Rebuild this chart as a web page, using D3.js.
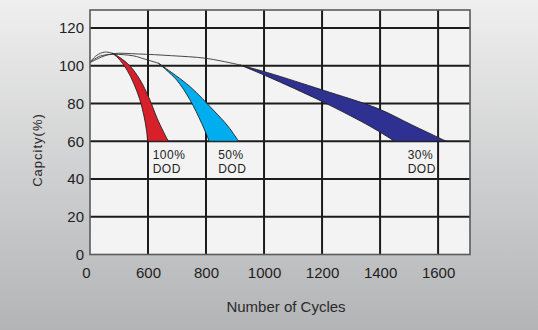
<!DOCTYPE html>
<html lang="en">
<head>
<meta charset="UTF-8">
<title>Capacity vs Number of Cycles</title>
<style>
  body { margin: 0; background: #fff; }
  svg { display: block; font-family: "Liberation Sans", Arial, sans-serif; }
  .grid line { stroke: #1c1c1c; stroke-width: 2; }
  .axis text { font-size: 15px; fill: #1e1e1e; }
  .axis path { display: none; }
  .lead { fill: none; stroke: #333; stroke-width: 0.9; }
  .band { stroke: #222; stroke-width: 0.9; stroke-linejoin: round; }
  .dod text { font-size: 12px; fill: #222; letter-spacing: 0.5px; }
</style>
</head>
<body>
<svg id="chart" width="538" height="330"></svg>
<script src="https://cdn.jsdelivr.net/npm/d3@7"></script>
<script>
// axis ticks
const xTicks = [0, 600, 800, 1000, 1200, 1400, 1600];
const yTicks = [0, 20, 40, 60, 80, 100, 120];

// depth-of-discharge series, in [cycles, capacity %]
const dodNames = ["100%", "50%", "30%"];

const lead100 = [[0, 102], [70, 105.5], [150, 107.2], [228, 106.7]];
const left100 = [[228, 106.7], [290, 104.1], [383, 97.7], [455, 90.3], [517, 81.8], [558, 73.4], [584, 66], [596, 60]];
const right100 = [[228, 106.7], [310, 104.3], [414, 99.8], [517, 92.6], [603, 83.1], [631, 72.3], [652, 65.4], [670, 60]];

const lead50 = [[0, 101.8], [100, 105], [241, 106], [450, 105.2], [560, 103.6], [636, 101.3]];
const left50 = [[636, 101.3], [699, 92.4], [745, 81.8], [785, 69.5], [811, 60]];
const right50 = [[636, 101.3], [653, 99.5], [745, 88.9], [825, 76.5], [877, 67.7], [912, 60]];

const lead30 = [[0, 101.6], [120, 104.6], [241, 106.4], [500, 106.2], [681, 105.3], [800, 103.9], [917, 100.4]];
const left30 = [[917, 100.4], [1013, 94.2], [1202, 80.9], [1368, 67.7], [1450, 60]];
const right30 = [[917, 100.4], [1013, 96.3], [1202, 87.1], [1391, 77.4], [1510, 68.6], [1628, 60]];

// where each DOD caption sits: [cycles, capacity %]
const labelPos = [[616, 50.5], [842, 50.5], [1495, 50.5]];

const series = [
  { name: dodNames[0], lead: lead100, left: left100, right: right100, label: labelPos[0] },
  { name: dodNames[1], lead: lead50, left: left50, right: right50, label: labelPos[1] },
  { name: dodNames[2], lead: lead30, left: left30, right: right30, label: labelPos[2] }
];

const color = d3.scaleOrdinal()
  .domain(dodNames)
  .range(["#d8202a", "#00aeef", "#2e3192"]);

const margin = { top: 10, left: 90 };
const plotW = 380, plotH = 244.5;

const svg = d3.select("#chart");

// soft grey backdrop
const grad = svg.append("defs").append("linearGradient")
  .attr("id", "bg").attr("x1", 0).attr("y1", 0).attr("x2", 0).attr("y2", 1);
grad.append("stop").attr("offset", 0).attr("stop-color", "#efefef");
grad.append("stop").attr("offset", 1).attr("stop-color", "#b3b4b6");
svg.append("rect").attr("width", 538).attr("height", 330).attr("fill", "url(#bg)");

const g = svg.append("g").attr("transform", `translate(${margin.left},${margin.top})`);

// axis is broken after 0, so the first step covers 0..600
const x = d3.scaleLinear().domain([0, 600, 1710]).range([0, 58, plotW]);
const y = d3.scaleLinear().domain([0, 129.5]).range([plotH, 0]);

g.append("rect").attr("width", plotW).attr("height", plotH).attr("fill", "#f3f3f3");

const grid = g.append("g").attr("class", "grid");
grid.selectAll(".v").data(xTicks.slice(1)).join("line")
  .attr("class", "v")
  .attr("x1", d => x(d)).attr("x2", d => x(d))
  .attr("y1", 0).attr("y2", plotH);
grid.selectAll(".h").data(yTicks.slice(1)).join("line")
  .attr("class", "h")
  .attr("x1", 0).attr("x2", plotW)
  .attr("y1", d => y(d)).attr("y2", d => y(d));

const line = d3.line()
  .x(d => x(d[0]))
  .y(d => y(d[1]))
  .curve(d3.curveCatmullRom.alpha(0.5));

// thin lines running from the start to each band
g.selectAll(".lead").data(series).join("path")
  .attr("class", "lead")
  .attr("d", d => line(d.lead));

// each band: left edge down, right edge back up
g.selectAll(".band").data(series).join("path")
  .attr("class", "band")
  .attr("fill", d => color(d.name))
  .attr("d", d => {
    const down = line(d.left);
    const up = line(d.right.slice().reverse()).replace(/^M/, "L");
    return down + up + "Z";
  });

// plot frame
g.append("rect")
  .attr("width", plotW).attr("height", plotH)
  .attr("fill", "none").attr("stroke", "#5a5a5a").attr("stroke-width", 1.6);

// DOD captions
const cap = g.append("g").attr("class", "dod").selectAll("text").data(series).join("text")
  .attr("x", d => x(d.label[0]))
  .attr("y", d => y(d.label[1]));
cap.append("tspan").text(d => d.name);
cap.append("tspan").attr("x", d => x(d.label[0])).attr("dy", 13.4).text("DOD");

// axes
g.append("g").attr("class", "axis")
  .call(d3.axisLeft(y).tickValues(yTicks).tickSize(0).tickPadding(6));

g.append("g").attr("class", "axis")
  .attr("transform", `translate(0,${plotH})`)
  .call(d3.axisBottom(x).tickValues(xTicks).tickFormat(d3.format("d")).tickSize(0).tickPadding(13))
  .selectAll("text")
  .attr("dx", d => d === 0 ? -4 : 0);

svg.append("text")
  .attr("x", 286).attr("y", 312)
  .attr("text-anchor", "middle")
  .style("font-size", "15px").style("fill", "#2a2a2a")
  .text("Number of Cycles");

svg.append("text")
  .attr("transform", "translate(42,150) rotate(-90)")
  .attr("text-anchor", "middle")
  .style("font-size", "13px").style("fill", "#2a2a2a").style("letter-spacing", "1px")
  .text("Capcity(%)");
</script>
</body>
</html>
